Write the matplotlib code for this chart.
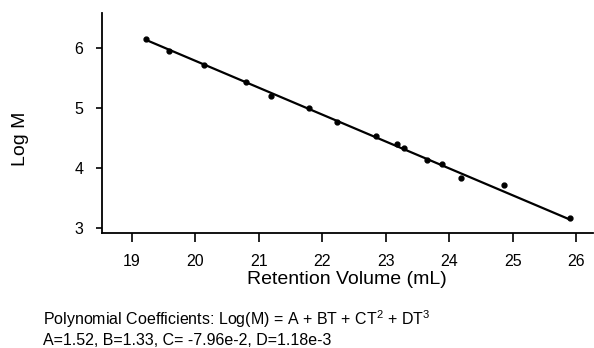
import matplotlib
matplotlib.use("Agg")
import matplotlib.pyplot as plt

# calibration points
ret_vol = [19.23, 19.59, 20.14, 20.80, 21.20, 21.79, 22.23, 22.85,
           23.18, 23.29, 23.65, 23.89, 24.18, 24.86, 25.91]
log_m = [6.14, 5.955, 5.72, 5.44, 5.205, 5.00, 4.77, 4.54,
         4.40, 4.33, 4.14, 4.06, 3.83, 3.72, 3.17]

# fitted calibration line (end points)
fit_x = [19.23, 25.91]
fit_y = [6.13, 3.14]

x_ticks = [19, 20, 21, 22, 23, 24, 25, 26]
y_ticks = [3, 4, 5, 6]

plt.rcParams['font.family'] = ['Liberation Sans', 'DejaVu Sans']
plt.rcParams['mathtext.fontset'] = 'custom'
plt.rcParams['mathtext.rm'] = 'Liberation Sans'

fig = plt.figure(figsize=(5.94, 3.48), dpi=100)
ax = fig.add_axes([0.1717, 0.3305, 0.826, 0.632])

ax.plot(fit_x, fit_y, color='black', lw=1.6)
ax.plot(ret_vol, log_m, 'o', color='black', ms=3.5)

ax.set_xlim(18.53, 26.26)
ax.set_ylim(2.92, 6.58)
ax.set_xticks(x_ticks)
ax.set_yticks(y_ticks)
ax.spines['top'].set_visible(False)
ax.spines['right'].set_visible(False)
for s in ['left', 'bottom']:
    ax.spines[s].set_linewidth(1.3)
ax.tick_params(axis='x', direction='out', length=6.5, width=1.2, labelsize=11.5, pad=8.5)
ax.tick_params(axis='y', direction='out', length=4.3, width=1.2, labelsize=11.5, pad=9)

ax.set_xlabel('Retention Volume (mL)', fontsize=14, labelpad=1.5)
ax.set_ylabel('Log M', fontsize=14)
ax.yaxis.set_label_coords(-0.1486, 0.427)

fig.text(0.072, 0.066, r'Polynomial Coefficients: Log(M) = A + BT + CT$\mathregular{^2}$ + DT$\mathregular{^3}$',
         fontsize=11.5, ha='left', va='baseline')
fig.text(0.072, 0.009, 'A=1.52, B=1.33, C= -7.96e-2, D=1.18e-3',
         fontsize=11.5, ha='left', va='baseline')

fig.savefig('out.png', dpi=100)
